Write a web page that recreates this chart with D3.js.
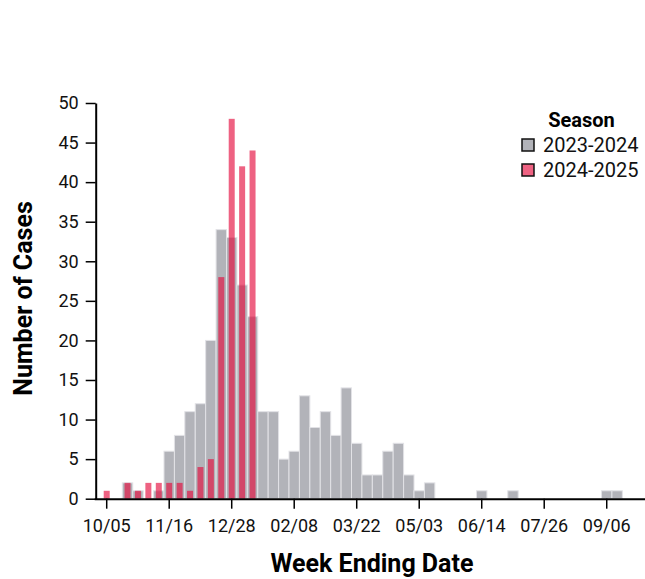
<!DOCTYPE html>
<html>
<head>
<meta charset="utf-8">
<script src="https://cdn.jsdelivr.net/npm/d3@7"></script>
<style>
  html, body { margin: 0; padding: 0; background: #fff; }
  svg { display: block; font-family: Roboto, "Noto Sans", sans-serif; }
</style>
</head>
<body>
<svg id="chart" width="645" height="579"></svg>
<script>
const weeks = ["10/05","10/12","10/19","10/26","11/02","11/09","11/16","11/23","11/30","12/07","12/14","12/21","12/28","01/04","01/11","01/18","01/25","02/01","02/08","02/15","02/22","03/01","03/08","03/15","03/22","03/29","04/05","04/12","04/19","04/26","05/03","05/10","05/17","05/24","05/31","06/07","06/14","06/21","06/28","07/05","07/12","07/19","07/26","08/02","08/09","08/16","08/23","08/30","09/06","09/13","09/20","09/27"];
const season2324 = [0,0,2,1,0,1,6,8,11,12,20,34,33,27,23,11,11,5,6,13,9,11,8,14,7,3,3,6,7,3,1,2,0,0,0,0,1,0,0,1,0,0,0,0,0,0,0,0,1,1,0,0];
const season2425 = [1,0,2,1,2,2,2,2,1,4,5,28,48,42,44];
const tickWeeks = ["10/05","11/16","12/28","02/08","03/22","05/03","06/14","07/26","09/06"];
const yTicks = [0,5,10,15,20,25,30,35,40,45,50];
const seasons = ["2023-2024","2024-2025"];

const svg = d3.select("#chart");
const mLeft = 95.7, mBottom = 498.7, mTop = 103;
const x = d3.scaleBand().domain(weeks).range([101.5, 101.5 + 52 * 10.417]).padding(0);
const y = d3.scaleLinear().domain([0, 50]).range([mBottom, mTop]);
const grayFill = "#b2b3b9";
const redFill = "rgb(228,10,60)";
const redOpacity = 0.64;

// gray bars
svg.append("g").selectAll("rect")
  .data(weeks.map((w, i) => ({w, v: season2324[i]})).filter(d => d.v > 0))
  .join("rect")
  .attr("x", d => x(d.w))
  .attr("y", d => y(d.v))
  .attr("width", x.bandwidth())
  .attr("height", d => y(0) - y(d.v))
  .attr("fill", grayFill)
  .attr("stroke", "#e2e2e6")
  .attr("stroke-width", 1);

// red bars
const rw = 6;
svg.append("g").selectAll("rect")
  .data(season2425.map((v, i) => ({w: weeks[i], v})).filter(d => d.v > 0))
  .join("rect")
  .attr("x", d => x(d.w) + x.bandwidth() / 2 - rw / 2)
  .attr("y", d => y(d.v))
  .attr("width", rw)
  .attr("height", d => y(0) - y(d.v))
  .attr("fill", redFill)
  .attr("fill-opacity", redOpacity);

// y axis
const yAxis = svg.append("g")
  .attr("transform", `translate(${mLeft},0)`)
  .call(d3.axisLeft(y).tickValues(yTicks).tickSize(10).tickPadding(7).tickSizeOuter(0));
yAxis.select(".domain").attr("stroke", "#000").attr("stroke-width", 2);
yAxis.selectAll(".tick line").attr("stroke", "#000").attr("stroke-width", 1.5);
yAxis.selectAll(".tick text").attr("font-size", 18).attr("font-family", "Roboto").attr("fill", "#111");

// x axis
const xAxis = svg.append("g")
  .attr("transform", `translate(0,${mBottom})`)
  .call(d3.axisBottom(x).tickValues(tickWeeks).tickSize(10).tickPadding(11).tickSizeOuter(0));
xAxis.select(".domain").attr("d", `M${mLeft - 1},0.5H645`).attr("stroke", "#000").attr("stroke-width", 2);
xAxis.selectAll(".tick line").attr("stroke", "#000").attr("stroke-width", 1.5);
xAxis.selectAll(".tick text").attr("font-size", 18).attr("font-family", "Roboto").attr("fill", "#111");

// axis titles
svg.append("text")
  .attr("x", 372).attr("y", 571.7)
  .attr("text-anchor", "middle")
  .attr("font-size", 25).attr("font-weight", "bold").attr("fill", "#000")
  .text("Week Ending Date");
svg.append("text")
  .attr("transform", "translate(32,298.5) rotate(-90)")
  .attr("text-anchor", "middle")
  .attr("font-size", 25).attr("font-weight", "bold").attr("fill", "#000")
  .text("Number of Cases");

// legend
const lg = svg.append("g");
lg.append("text")
  .attr("x", 581.5).attr("y", 127.3)
  .attr("text-anchor", "middle")
  .attr("font-size", 20).attr("font-weight", "bold").attr("fill", "#000")
  .text("Season");
const items = lg.selectAll("g.item").data(seasons).join("g")
  .attr("class", "item")
  .attr("transform", (d, i) => `translate(0,${145 + i * 25})`);
items.append("rect")
  .attr("x", 522).attr("y", -6).attr("width", 12).attr("height", 12)
  .attr("fill", (d, i) => i === 0 ? grayFill : redFill)
  .attr("fill-opacity", (d, i) => i === 0 ? 1 : redOpacity)
  .attr("stroke", "#111").attr("stroke-width", 1.5);
items.append("text")
  .attr("x", 543).attr("y", 7)
  .attr("font-size", 20).attr("fill", "#111")
  .text(d => d);
</script>
</body>
</html>
